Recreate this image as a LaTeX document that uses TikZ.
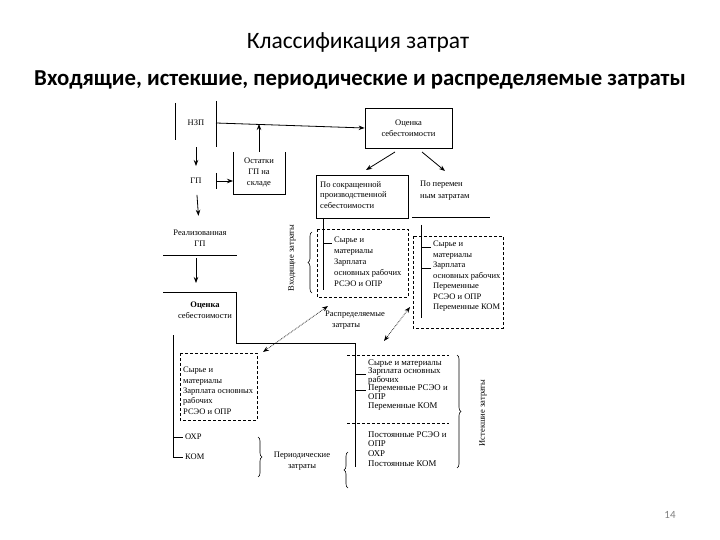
\documentclass[tikz,border=0pt]{standalone}
\usepackage{fontspec}
\setmainfont{Liberation Serif}
\newfontfamily\calib{Carlito}
\usetikzlibrary{arrows.meta,decorations.pathreplacing}
\begin{document}
\begin{tikzpicture}[x=1pt,y=-1pt,
  ln/.style={line width=0.8pt},
  arr/.style={ln,-{Stealth[length=6pt,width=4.5pt]}},
  dotarr/.style={line width=0.7pt,densely dotted,{Stealth[length=6pt,width=4.5pt]}-{Stealth[length=6pt,width=4.5pt]}},
  dbox/.style={line width=0.8pt,dash pattern=on 3pt off 2pt},
  txt/.style={font=\fontsize{8.5}{10.5}\selectfont,inner sep=0pt},
  ltxt/.style={txt,align=left},
  brc/.style={decorate,decoration={brace,amplitude=4pt},line width=0.6pt}]
\useasboundingbox (0,0) rectangle (720,540);
\fill[white] (0,0) rectangle (720,540);
% titles
\node[font=\calib\fontsize{23.5}{28}\selectfont] (title) at (358,42) {Классификация затрат};
\node[font=\calib\bfseries\fontsize{22.8}{28}\selectfont] (sub) at (360,80) {Входящие, истекшие, периодические и распределяемые затраты};
\node[font=\calib\fontsize{11}{13}\selectfont,text=gray] (pg) at (670,515) {14};
% left column
\node[txt] (nzp) at (196,123) {НЗП};
\draw[ln] (175,103) -- (175,140);
\draw[ln] (216,101) -- (216,147);
\coordinate (nzpR) at (216,123);
\node[draw,ln,minimum width=87pt,minimum height=40pt,txt,align=center] (ocen1) at (408.5,128) {Оценка\\себестоимости};
\draw[arr] (nzpR) -- (ocen1.west);
\node[txt] (gp) at (196,181) {ГП};
\draw[arr,shorten <=21pt,shorten >=12pt] (nzp) -- (gp);
\node[txt,align=center,font=\fontsize{8.5}{11}\selectfont] (ost) at (259,173) {Остатки\\ГП на\\складе};
\draw[ln] (233,152) -- (233,194) -- (285,194) -- (285,152);
\coordinate (ostT) at (259,152);
\coordinate (lineP) at (259,124);
\draw[arr] (ostT) -- (lineP);
\draw[ln] (216,173) -- (216,189);
\coordinate (gpT) at (216,181);
\coordinate (ostL) at (233,181);
\draw[arr] (gpT) -- (ostL);
\node[txt,align=center] (real) at (200,238) {Реализованная\\ГП};
\draw[arr,shorten <=11pt,shorten >=14pt] (gp) -- (real);
\draw[ln] (163,255) -- (237,255);
\node[txt,align=center] (ocen2) at (205,310) {\textbf{Оценка}\\себестоимости};
\coordinate (realB) at (196,258);
\coordinate (ocen2T) at (196,283);
\draw[arr] (realB) -- (ocen2T);
\draw[ln] (163,292) -- (236,292) -- (236,343) -- (355,343) -- (355,467);
\draw[ln] (173,335) -- (173,457);
\draw[ln] (173,437) -- (183,437);
\node[txt,anchor=west] (ohr1) at (185,437) {ОХР};
\draw[ln] (173,457) -- (183,457);
\node[txt,anchor=west] (kom1) at (185,457) {КОМ};
\draw[dbox] (180,353) rectangle (257,420);
\node[ltxt,anchor=north west,font=\fontsize{8.5}{10.3}\selectfont] (dl) at (183,367) {Сырье и\\материалы\\Зарплата основных\\рабочих\\РСЭО и ОПР};
% upper middle
\draw[ln] (316,175) rectangle (408,218);
\node[ltxt,anchor=north west] (sokr) at (320,181) {По сокращенной\\производственной\\себестоимости};
\node[ltxt,anchor=north west,font=\fontsize{8.5}{12}\selectfont] (perem) at (420,181) {По перемен\\ным затратам};
\draw[ln] (412,217) -- (490,217);
\coordinate (o1a) at (395,152);
\coordinate (o1b) at (422,152);
\coordinate (sokrT) at (366,170);
\coordinate (peremT) at (445,171);
\draw[arr] (o1a) -- (sokrT);
\draw[arr] (o1b) -- (peremT);
% incoming costs
\draw[ln] (323,218) -- (323,290);
\draw[ln] (323,243) -- (332,243);
\draw[dbox] (317,229) rectangle (408,297);
\node[ltxt,anchor=north west,font=\fontsize{8.5}{11}\selectfont] (inL) at (334,237) {Сырье и\\материалы\\Зарплата\\основных рабочих\\РСЭО и ОПР};
\draw[brc] (312,293) -- (312,232);
\node[txt,rotate=90] (inlab) at (292,258) {Входящие затраты};
% variable costs
\draw[ln] (421,225) -- (421,318);
\draw[ln] (421,247) -- (431,247);
\draw[ln] (421,268) -- (431,268);
\draw[dbox] (413,236) rectangle (503,328);
\node[ltxt,anchor=north west,font=\fontsize{8.5}{10.5}\selectfont] (inR) at (433,241) {Сырье и\\материалы\\Зарплата\\основных рабочих\\Переменные\\РСЭО и ОПР\\Переменные КОМ};
% distributed
\coordinate (d1a) at (263,352);
\coordinate (d1b) at (328,306);
\coordinate (d2a) at (384,341);
\coordinate (d2b) at (410,307);
\draw[dotarr] (d1a) -- (d1b);
\draw[dotarr] (d2a) -- (d2b);
\node[ltxt,anchor=north west,font=\fontsize{8.5}{11}\selectfont] (distr) at (325,311) {Распределяемые\\\hspace*{7pt}затраты};
% expired
\draw[dbox] (347,355) -- (449,355);
\draw[dbox] (347,423) -- (449,423);
\draw[ln] (355,374) -- (366,374);
\draw[ln] (355,390) -- (366,390);
\node[ltxt,anchor=north west,font=\fontsize{8.8}{8.6}\selectfont] (ex1) at (368,359) {Сырье и материалы\\Зарплата основных\\рабочих\\Переменные РСЭО и\\ОПР\\Переменные КОМ};
\node[ltxt,anchor=north west,font=\fontsize{8.8}{9.7}\selectfont] (ex2) at (368,431) {Постоянные РСЭО и\\ОПР\\ОХР\\Постоянные КОМ};
\draw[brc] (457,355) -- (457,468);
\node[txt,rotate=90] (istlab) at (483,413) {Истекшие затраты};
% periodic
\draw[brc] (258,437) -- (258,477);
\node[txt,align=center] (period) at (302,461) {Периодические\\затраты};
\draw[brc] (348,488) -- (348,452);
\end{tikzpicture}
\end{document}
